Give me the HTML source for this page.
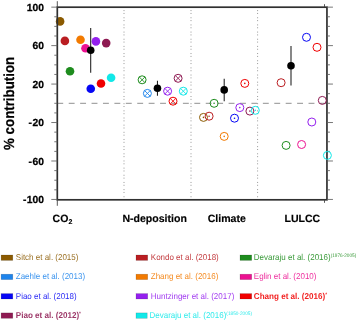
<!DOCTYPE html>
<html><head><meta charset="utf-8"><style>
html,body{margin:0;padding:0;background:#fff;}
svg{display:block;will-change:transform;}
text{font-family:"Liberation Sans",sans-serif;text-rendering:geometricPrecision;}
.tl{font-size:10.3px;font-weight:bold;fill:#000;stroke:#000;stroke-width:0.25px;}
.yt{font-size:13.3px;font-weight:bold;fill:#000;stroke:#000;stroke-width:0.2px;}
.xl{font-size:10.55px;font-weight:bold;fill:#000;stroke:#000;stroke-width:0.15px;}
.lg{font-size:8.5px;fill-opacity:0.88;}
</style></head><body>
<svg width="357" height="321" viewBox="0 0 357 321">
<rect width="357" height="321" fill="#fff"/>
<line x1="124.0" y1="10.1" x2="124.0" y2="199.8" stroke="#989898" stroke-width="1" stroke-dasharray="1 1.85 1 3.31"/>
<line x1="191.0" y1="10.1" x2="191.0" y2="199.8" stroke="#989898" stroke-width="1" stroke-dasharray="1 1.85 1 3.31"/>
<line x1="257.6" y1="10.1" x2="257.6" y2="199.8" stroke="#989898" stroke-width="1" stroke-dasharray="1 1.85 1 3.31"/>
<line x1="57.3" y1="103.30" x2="326.95" y2="103.30" stroke="#909090" stroke-width="1" stroke-dasharray="5.9 5.52" stroke-dashoffset="0"/>
<circle cx="60.1" cy="21.4" r="4.3" fill="#8B5A00"/>
<circle cx="90.75" cy="88.75" r="4.3" fill="#0606F4"/>
<circle cx="106.2" cy="43.1" r="4.3" fill="#8E1A52"/>
<circle cx="64.9" cy="40.9" r="4.3" fill="#BA1E22"/>
<circle cx="80.5" cy="39.8" r="4.3" fill="#F27A00"/>
<circle cx="95.9" cy="41.4" r="4.3" fill="#9420EE"/>
<circle cx="111.1" cy="77.7" r="4.3" fill="#12E8E8"/>
<circle cx="70.0" cy="71.2" r="4.3" fill="#1E8C1E"/>
<circle cx="85.5" cy="48.2" r="4.3" fill="#EC1191"/>
<circle cx="101.0" cy="83.5" r="4.3" fill="#F00000"/>
<rect x="57.3" y="7.2" width="269.65" height="192.60" fill="none" stroke="#303030" stroke-width="1.7"/>
<line x1="51.3" y1="199.45" x2="57.3" y2="199.45" stroke="#606060" stroke-width="0.85"/>
<line x1="326.95" y1="199.45" x2="332.95" y2="199.45" stroke="#606060" stroke-width="0.85"/>
<line x1="54.3" y1="189.83" x2="57.3" y2="189.83" stroke="#606060" stroke-width="0.85"/>
<line x1="326.95" y1="189.83" x2="329.95" y2="189.83" stroke="#606060" stroke-width="0.85"/>
<line x1="54.3" y1="180.22" x2="57.3" y2="180.22" stroke="#606060" stroke-width="0.85"/>
<line x1="326.95" y1="180.22" x2="329.95" y2="180.22" stroke="#606060" stroke-width="0.85"/>
<line x1="54.3" y1="170.61" x2="57.3" y2="170.61" stroke="#606060" stroke-width="0.85"/>
<line x1="326.95" y1="170.61" x2="329.95" y2="170.61" stroke="#606060" stroke-width="0.85"/>
<line x1="51.3" y1="160.99" x2="57.3" y2="160.99" stroke="#606060" stroke-width="0.85"/>
<line x1="326.95" y1="160.99" x2="332.95" y2="160.99" stroke="#606060" stroke-width="0.85"/>
<line x1="54.3" y1="151.38" x2="57.3" y2="151.38" stroke="#606060" stroke-width="0.85"/>
<line x1="326.95" y1="151.38" x2="329.95" y2="151.38" stroke="#606060" stroke-width="0.85"/>
<line x1="54.3" y1="141.76" x2="57.3" y2="141.76" stroke="#606060" stroke-width="0.85"/>
<line x1="326.95" y1="141.76" x2="329.95" y2="141.76" stroke="#606060" stroke-width="0.85"/>
<line x1="54.3" y1="132.14" x2="57.3" y2="132.14" stroke="#606060" stroke-width="0.85"/>
<line x1="326.95" y1="132.14" x2="329.95" y2="132.14" stroke="#606060" stroke-width="0.85"/>
<line x1="51.3" y1="122.53" x2="57.3" y2="122.53" stroke="#606060" stroke-width="0.85"/>
<line x1="326.95" y1="122.53" x2="332.95" y2="122.53" stroke="#606060" stroke-width="0.85"/>
<line x1="54.3" y1="112.91" x2="57.3" y2="112.91" stroke="#606060" stroke-width="0.85"/>
<line x1="326.95" y1="112.91" x2="329.95" y2="112.91" stroke="#606060" stroke-width="0.85"/>
<line x1="54.3" y1="103.30" x2="57.3" y2="103.30" stroke="#606060" stroke-width="0.85"/>
<line x1="326.95" y1="103.30" x2="329.95" y2="103.30" stroke="#606060" stroke-width="0.85"/>
<line x1="54.3" y1="93.69" x2="57.3" y2="93.69" stroke="#606060" stroke-width="0.85"/>
<line x1="326.95" y1="93.69" x2="329.95" y2="93.69" stroke="#606060" stroke-width="0.85"/>
<line x1="51.3" y1="84.07" x2="57.3" y2="84.07" stroke="#606060" stroke-width="0.85"/>
<line x1="326.95" y1="84.07" x2="332.95" y2="84.07" stroke="#606060" stroke-width="0.85"/>
<line x1="54.3" y1="74.45" x2="57.3" y2="74.45" stroke="#606060" stroke-width="0.85"/>
<line x1="326.95" y1="74.45" x2="329.95" y2="74.45" stroke="#606060" stroke-width="0.85"/>
<line x1="54.3" y1="64.84" x2="57.3" y2="64.84" stroke="#606060" stroke-width="0.85"/>
<line x1="326.95" y1="64.84" x2="329.95" y2="64.84" stroke="#606060" stroke-width="0.85"/>
<line x1="54.3" y1="55.22" x2="57.3" y2="55.22" stroke="#606060" stroke-width="0.85"/>
<line x1="326.95" y1="55.22" x2="329.95" y2="55.22" stroke="#606060" stroke-width="0.85"/>
<line x1="51.3" y1="45.61" x2="57.3" y2="45.61" stroke="#606060" stroke-width="0.85"/>
<line x1="326.95" y1="45.61" x2="332.95" y2="45.61" stroke="#606060" stroke-width="0.85"/>
<line x1="54.3" y1="35.99" x2="57.3" y2="35.99" stroke="#606060" stroke-width="0.85"/>
<line x1="326.95" y1="35.99" x2="329.95" y2="35.99" stroke="#606060" stroke-width="0.85"/>
<line x1="54.3" y1="26.38" x2="57.3" y2="26.38" stroke="#606060" stroke-width="0.85"/>
<line x1="326.95" y1="26.38" x2="329.95" y2="26.38" stroke="#606060" stroke-width="0.85"/>
<line x1="54.3" y1="16.77" x2="57.3" y2="16.77" stroke="#606060" stroke-width="0.85"/>
<line x1="326.95" y1="16.77" x2="329.95" y2="16.77" stroke="#606060" stroke-width="0.85"/>
<line x1="51.3" y1="7.15" x2="57.3" y2="7.15" stroke="#606060" stroke-width="0.85"/>
<line x1="326.95" y1="7.15" x2="332.95" y2="7.15" stroke="#606060" stroke-width="0.85"/>
<line x1="57.3" y1="7.2" x2="57.3" y2="1.2000000000000002" stroke="#444" stroke-width="0.9"/>
<line x1="57.3" y1="199.8" x2="57.3" y2="205.8" stroke="#444" stroke-width="0.9"/>
<line x1="324.5" y1="7.2" x2="324.5" y2="4.2" stroke="#444" stroke-width="0.9"/>
<line x1="324.5" y1="199.8" x2="324.5" y2="202.8" stroke="#444" stroke-width="0.9"/>
<text x="43.9" y="10.65" text-anchor="end" class="tl">100</text>
<text x="43.9" y="49.19" text-anchor="end" class="tl">60</text>
<text x="43.9" y="87.73" text-anchor="end" class="tl">20</text>
<text x="43.9" y="126.27" text-anchor="end" class="tl">-<tspan dx="0.4">20</tspan></text>
<text x="43.9" y="164.81" text-anchor="end" class="tl">-<tspan dx="0.4">60</tspan></text>
<text x="43.9" y="203.35" text-anchor="end" class="tl">-<tspan dx="0.4">100</tspan></text>
<text transform="translate(13.9,149.9) rotate(-90) scale(1,1.1)" class="yt">% contribution</text>
<text x="52.6" y="221.5" class="xl">CO<tspan font-size="7" dy="2.4">2</tspan></text>
<text x="122.4" y="221.5" class="xl">N-deposition</text>
<text x="207.7" y="222.4" class="xl">Climate</text>
<text x="284.5" y="222.4" class="xl">LULCC</text>
<circle cx="147.40" cy="93.40" r="4.0" fill="none" stroke="#1E84EC" stroke-width="1"/>
<path d="M144.57 90.57L150.23 96.23M144.57 96.23L150.23 90.57" stroke="#1E84EC" stroke-width="0.9"/>
<circle cx="178.10" cy="78.30" r="4.0" fill="none" stroke="#8E1A52" stroke-width="1"/>
<path d="M175.27 75.47L180.93 81.13M175.27 81.13L180.93 75.47" stroke="#8E1A52" stroke-width="0.9"/>
<circle cx="167.60" cy="91.20" r="4.0" fill="none" stroke="#9420EE" stroke-width="1"/>
<path d="M164.77 88.37L170.43 94.03M164.77 94.03L170.43 88.37" stroke="#9420EE" stroke-width="0.9"/>
<circle cx="183.30" cy="91.20" r="4.0" fill="none" stroke="#12E8E8" stroke-width="1"/>
<path d="M180.47 88.37L186.13 94.03M180.47 94.03L186.13 88.37" stroke="#12E8E8" stroke-width="0.9"/>
<circle cx="142.10" cy="79.80" r="4.0" fill="none" stroke="#1E8C1E" stroke-width="1"/>
<path d="M139.27 76.97L144.93 82.63M139.27 82.63L144.93 76.97" stroke="#1E8C1E" stroke-width="0.9"/>
<circle cx="173.00" cy="101.20" r="4.0" fill="none" stroke="#F00000" stroke-width="1"/>
<path d="M170.17 98.37L175.83 104.03M170.17 104.03L175.83 98.37" stroke="#F00000" stroke-width="0.9"/>
<circle cx="203.50" cy="117.40" r="4.0" fill="none" stroke="#8B5A00" stroke-width="1"/>
<circle cx="203.5" cy="117.4" r="0.8" fill="#8B5A00"/>
<circle cx="234.50" cy="118.20" r="4.0" fill="none" stroke="#0606F4" stroke-width="1"/>
<circle cx="234.5" cy="118.2" r="0.8" fill="#0606F4"/>
<circle cx="249.90" cy="111.10" r="4.0" fill="none" stroke="#8E1A52" stroke-width="1"/>
<circle cx="249.9" cy="111.1" r="0.8" fill="#8E1A52"/>
<circle cx="209.10" cy="116.20" r="4.0" fill="none" stroke="#BA1E22" stroke-width="1"/>
<circle cx="209.1" cy="116.2" r="0.8" fill="#BA1E22"/>
<circle cx="224.20" cy="136.40" r="4.0" fill="none" stroke="#F27A00" stroke-width="1"/>
<circle cx="224.2" cy="136.4" r="0.8" fill="#F27A00"/>
<circle cx="239.80" cy="107.60" r="4.0" fill="none" stroke="#9420EE" stroke-width="1"/>
<circle cx="239.8" cy="107.6" r="0.8" fill="#9420EE"/>
<circle cx="255.30" cy="110.30" r="4.0" fill="none" stroke="#12E8E8" stroke-width="1"/>
<circle cx="255.3" cy="110.3" r="0.8" fill="#12E8E8"/>
<circle cx="214.10" cy="103.30" r="4.0" fill="none" stroke="#1E8C1E" stroke-width="1"/>
<circle cx="214.1" cy="103.3" r="0.8" fill="#1E8C1E"/>
<circle cx="244.80" cy="83.40" r="4.0" fill="none" stroke="#F00000" stroke-width="1"/>
<circle cx="244.8" cy="83.4" r="0.8" fill="#F00000"/>
<circle cx="306.50" cy="37.30" r="4.0" fill="none" stroke="#0606F4" stroke-width="1"/>
<circle cx="322.30" cy="100.40" r="4.0" fill="none" stroke="#8E1A52" stroke-width="1"/>
<circle cx="281.10" cy="82.70" r="4.0" fill="none" stroke="#BA1E22" stroke-width="1"/>
<circle cx="311.80" cy="122.00" r="4.0" fill="none" stroke="#9420EE" stroke-width="1"/>
<circle cx="327.40" cy="155.40" r="4.0" fill="none" stroke="#12E8E8" stroke-width="1"/>
<circle cx="286.10" cy="145.40" r="4.0" fill="none" stroke="#1E8C1E" stroke-width="1"/>
<circle cx="301.60" cy="144.50" r="4.0" fill="none" stroke="#EC1191" stroke-width="1"/>
<circle cx="317.00" cy="47.30" r="4.0" fill="none" stroke="#F00000" stroke-width="1"/>
<line x1="90.7" y1="27.9" x2="90.7" y2="72.8" stroke="#1c1c1c" stroke-width="1.05"/>
<circle cx="90.7" cy="50.2" r="3.8" fill="#000"/>
<line x1="157.45" y1="80.8" x2="157.45" y2="95.7" stroke="#1c1c1c" stroke-width="1.05"/>
<circle cx="157.45" cy="88.3" r="3.8" fill="#000"/>
<line x1="224.2" y1="78.7" x2="224.2" y2="101.2" stroke="#1c1c1c" stroke-width="1.05"/>
<circle cx="224.2" cy="89.9" r="3.8" fill="#000"/>
<line x1="291.0" y1="45.9" x2="291.0" y2="85.5" stroke="#1c1c1c" stroke-width="1.05"/>
<circle cx="291.0" cy="65.7" r="3.8" fill="#000"/>
<rect x="1.1" y="255.0" width="11.7" height="5.4" fill="#8B5A00" stroke="#000" stroke-opacity="0.22" stroke-width="0.6"/>
<text transform="translate(15.8,259.60) scale(0.94,1)" class="lg" fill="#8B5A00">Sitch et al. (2015)</text>
<rect x="1.1" y="274.2" width="11.7" height="5.4" fill="#1E84EC" stroke="#000" stroke-opacity="0.22" stroke-width="0.6"/>
<text transform="translate(15.8,279.20) scale(0.94,1)" class="lg" fill="#1E84EC">Zaehle et al. (2013)</text>
<rect x="1.1" y="293.6" width="11.7" height="5.4" fill="#0606F4" stroke="#000" stroke-opacity="0.22" stroke-width="0.6"/>
<text transform="translate(15.8,298.90) scale(0.94,1)" class="lg" fill="#0606F4">Piao et al. (2018)</text>
<rect x="1.1" y="312.9" width="11.7" height="5.4" fill="#8E1A52" stroke="#000" stroke-opacity="0.22" stroke-width="0.6"/>
<text transform="translate(15.8,318.20) scale(0.95,1)" class="lg" fill="#8E1A52" font-weight="bold" font-size="8.1">Piao et al. (2012)<tspan font-size="5.0" dy="-3.0">*</tspan></text>
<rect x="136.0" y="255.0" width="11.7" height="5.4" fill="#BA1E22" stroke="#000" stroke-opacity="0.22" stroke-width="0.6"/>
<text transform="translate(150.8,259.60) scale(0.94,1)" class="lg" fill="#BA1E22">Kondo et al. (2018)</text>
<rect x="136.0" y="274.2" width="11.7" height="5.4" fill="#F27A00" stroke="#000" stroke-opacity="0.22" stroke-width="0.6"/>
<text transform="translate(150.8,279.20) scale(0.94,1)" class="lg" fill="#F27A00">Zhang et al. (2016)</text>
<rect x="136.0" y="293.6" width="11.7" height="5.4" fill="#9420EE" stroke="#000" stroke-opacity="0.22" stroke-width="0.6"/>
<text transform="translate(150.8,298.90) scale(0.94,1)" class="lg" fill="#9420EE">Huntzinger et al. (2017)</text>
<rect x="136.0" y="312.9" width="11.2" height="5.4" fill="#12E8E8" stroke="#000" stroke-opacity="0.22" stroke-width="0.6"/>
<text transform="translate(149.5,318.20) scale(0.94,1)" class="lg" fill="#12E8E8">Devaraju et al. (2016)<tspan font-size="5.0" dy="-3.0">(1850-2005)</tspan></text>
<rect x="240.0" y="255.0" width="11.7" height="5.4" fill="#1E8C1E" stroke="#000" stroke-opacity="0.22" stroke-width="0.6"/>
<text transform="translate(253.8,259.60) scale(0.94,1)" class="lg" fill="#1E8C1E">Devaraju et al. (2016)<tspan font-size="5.0" dy="-3.0">(1976-2005)</tspan></text>
<rect x="240.0" y="274.2" width="11.7" height="5.4" fill="#EC1191" stroke="#000" stroke-opacity="0.22" stroke-width="0.6"/>
<text transform="translate(253.8,279.20) scale(0.94,1)" class="lg" fill="#EC1191">Eglin et al. (2010)</text>
<rect x="240.0" y="293.6" width="11.7" height="5.4" fill="#F00000" stroke="#000" stroke-opacity="0.22" stroke-width="0.6"/>
<text transform="translate(253.8,298.90) scale(0.95,1)" class="lg" fill="#F00000" font-weight="bold" font-size="8.1">Chang et al. (2016)<tspan font-size="5.0" dy="-3.0">*</tspan></text>
</svg>
</body></html>
